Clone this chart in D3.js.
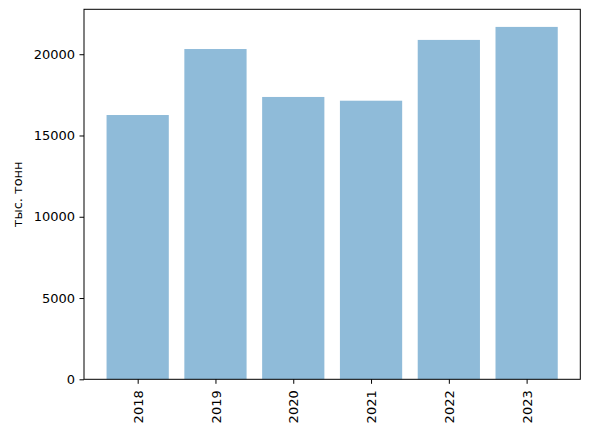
<!DOCTYPE html>
<html><head><meta charset="utf-8">
<script src="https://cdn.jsdelivr.net/npm/d3@7"></script>
<style>body{margin:0;background:#fff}svg{display:block}text{font-family:"DejaVu Sans",sans-serif}</style>
</head><body>
<script>
const categories = ["2018","2019","2020","2021","2022","2023"];
const values = [16260, 20320, 17370, 17140, 20880, 21680];
const yTicks = [0, 5000, 10000, 15000, 20000];
const yLabel = "тыс. тонн";

const W = 589, H = 434;
const L = 84, R = 580.3, T = 9.3, B = 379.3;
const svg = d3.select("body").append("svg").attr("width", W).attr("height", H);

const n = categories.length;
const x = d3.scaleLinear().domain([-0.4 - 0.29, (n - 1) + 0.4 + 0.29]).range([L, R]);
const ymax = d3.max(values) * 1.05;
const y = d3.scaleLinear().domain([0, ymax]).range([B, T]);

svg.append("g").selectAll("rect").data(values).join("rect")
  .attr("x", (d, i) => x(i - 0.4))
  .attr("width", (d, i) => x(i + 0.4) - x(i - 0.4))
  .attr("y", d => y(d))
  .attr("height", d => y(0) - y(d))
  .attr("fill", "#1f77b4").attr("fill-opacity", 0.5);

const fs = 13;
const yAxis = d3.axisLeft(y).tickValues(yTicks).tickFormat(d3.format("d")).tickSizeOuter(0).tickSize(4.5).tickPadding(4.5);
const gy = svg.append("g").attr("transform", `translate(${L},0)`).call(yAxis);
gy.select(".domain").remove();
gy.selectAll("text").attr("font-size", fs).attr("font-family", "DejaVu Sans").attr("fill", "#000");
gy.selectAll("line").attr("stroke", "#000").attr("stroke-width", 1);

const xAxis = d3.axisBottom(x).tickValues(d3.range(n)).tickFormat(i => categories[i]).tickSizeOuter(0).tickSize(4.5).tickPadding(4.5);
const gx = svg.append("g").attr("transform", `translate(0,${B})`).call(xAxis);
gx.select(".domain").remove();
gx.selectAll("line").attr("stroke", "#000").attr("stroke-width", 1);
gx.selectAll("text").attr("font-size", fs).attr("font-family", "DejaVu Sans").attr("fill", "#000")
  .attr("transform", "rotate(-90)").attr("text-anchor", "end")
  .attr("x", -11).attr("y", 0).attr("dy", "0.35em");

svg.append("rect").attr("x", L).attr("y", T).attr("width", R - L).attr("height", B - T)
  .attr("fill", "none").attr("stroke", "#000").attr("stroke-width", 1);

svg.append("text").attr("transform", `translate(17,${(T + B) / 2}) rotate(-90)`)
  .attr("text-anchor", "middle").attr("dy", "0.35em").attr("font-size", fs).attr("fill", "#000").text(yLabel);
</script>
</body></html>
